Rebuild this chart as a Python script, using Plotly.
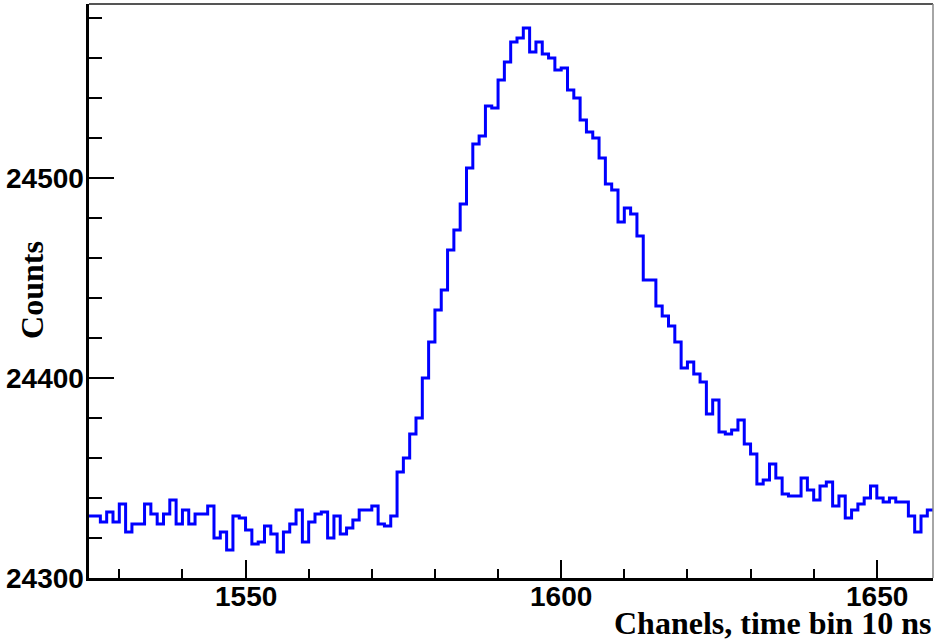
import plotly.graph_objects as go

# Histogram bins: channel number (left bin edge) and counts per bin
channels = list(range(1525, 1659))
counts = [
    24331, 24331, 24328, 24333, 24328, 24337, 24323, 24327, 24327, 24337,
    24332, 24327, 24332, 24339, 24327, 24334, 24327, 24332, 24332, 24336,
    24320, 24323, 24314, 24331, 24330, 24324, 24317, 24318, 24326, 24322,
    24313, 24323, 24327, 24334, 24318, 24328, 24332, 24333, 24320, 24331,
    24322, 24325, 24329, 24334, 24334, 24336, 24327, 24326, 24331, 24353,
    24360, 24372, 24380, 24400, 24418, 24434, 24444, 24464, 24474, 24487,
    24505, 24517, 24521, 24536, 24535, 24549, 24558, 24568, 24570, 24575,
    24563, 24568, 24562, 24560, 24554, 24555, 24544, 24540, 24529, 24523,
    24520, 24510, 24497, 24494, 24478, 24485, 24482, 24471, 24449, 24449,
    24436, 24431, 24426, 24418, 24405, 24408, 24402, 24398, 24382, 24389,
    24373, 24372, 24374, 24379, 24367, 24362, 24347, 24349, 24357, 24350,
    24342, 24341, 24341, 24350, 24344, 24339, 24346, 24348, 24336, 24341,
    24330, 24334, 24337, 24340, 24346, 24340, 24338, 24340, 24338, 24338,
    24331, 24323, 24331, 24334,
]

x_ticks = [1550, 1600, 1650]
y_ticks = [24300, 24400, 24500]

x_title = "Chanels, time bin 10 ns"
y_title = "Counts"

# step outline: each bin drawn from its left edge to the next edge
xs = channels + [channels[-1] + 1]
ys = counts + [counts[-1]]

fig = go.Figure()
fig.add_trace(go.Scatter(
    x=xs, y=ys, mode="lines", line_shape="hv",
    line=dict(color="#0000ff", width=3),
    hoverinfo="x+y", showlegend=False,
))

tick_font = dict(family="Liberation Sans, Arial, sans-serif", size=28,
                 color="black", weight="bold")
title_font = dict(family="Liberation Serif, Times New Roman, serif", size=32,
                  color="black", weight="bold")

fig.update_xaxes(
    range=[1525.2, 1658.9], showgrid=False, zeroline=False,
    showline=True, linecolor="black", linewidth=3,
    ticks="inside", tickmode="array", tickvals=x_ticks, ticklen=18,
    tickwidth=2, tickcolor="black", showticklabels=False,
    minor=dict(ticks="inside", dtick=10, tick0=0, ticklen=9, tickwidth=2,
               tickcolor="black", showgrid=False),
)
fig.update_yaxes(
    range=[24300, 24587], showgrid=False, zeroline=False,
    showline=True, linecolor="black", linewidth=3,
    ticks="inside", tickmode="array", tickvals=y_ticks, ticklen=25,
    tickwidth=2, tickcolor="black", showticklabels=False,
    minor=dict(ticks="inside", dtick=20, tick0=0, ticklen=13, tickwidth=2,
               tickcolor="black", showgrid=False),
)

# tick labels, placed close to the axes
for v in x_ticks:
    fig.add_annotation(text=str(v), xref="x", yref="paper", x=v, y=-0.032,
                       xanchor="center", yanchor="middle", showarrow=False,
                       font=tick_font)
for v in y_ticks:
    fig.add_annotation(text=str(v), xref="paper", yref="y", x=-0.0035, y=v,
                       xanchor="right", yanchor="middle", showarrow=False,
                       font=tick_font)

# frame lines on top and right
fig.add_shape(type="line", xref="paper", yref="paper", x0=0, x1=1, y0=1, y1=1,
              line=dict(color="#555555", width=2))
fig.add_shape(type="line", xref="paper", yref="paper", x0=1, x1=1, y0=0, y1=1,
              line=dict(color="#888888", width=1.5))

fig.add_annotation(text=x_title, xref="paper", yref="paper", x=1.0, y=-0.079,
                   xanchor="right", yanchor="middle", showarrow=False,
                   font=title_font)
fig.add_annotation(text=y_title, xref="paper", yref="paper", x=-0.0675, y=0.502,
                   xanchor="center", yanchor="middle", textangle=-90,
                   showarrow=False, font=title_font)

fig.update_layout(
    width=934, height=640,
    margin=dict(l=89, r=1, t=4, b=62, autoexpand=False),
    paper_bgcolor="white", plot_bgcolor="white",
)

fig.write_html("out.html")
